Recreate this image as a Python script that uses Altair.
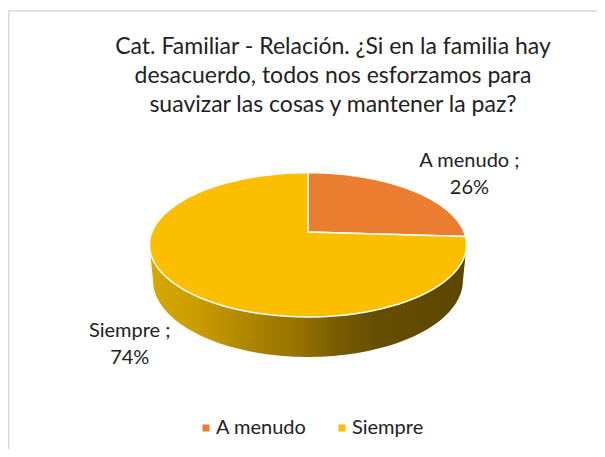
import math
import altair as alt
import pandas as pd

# ---- data ----
categories = ["A menudo", "Siempre"]
values = [26, 74]
colors = ["#EB7D31", "#FBBF00"]
title_lines = [
    "Cat. Familiar - Relación. ¿Si en la familia hay",
    "desacuerdo, todos nos esforzamos para",
    "suavizar las cosas y mantener la paz?",
]

# ---- layout / 3D style constants ----
W, H = 589, 441
CX, CY = 300, 224          # apex of the pie in view pixels (from top-left)
S, D, ALPHA, DEPTH = 785, 5.03, 26.6, 0.256
N = 90
FONT = "Lato"
TXT = "#222222"

ca = math.cos(math.radians(ALPHA))
sa = math.sin(math.radians(ALPHA))
fr = math.acos(-ca / D) / (2 * math.pi)   # right silhouette (fraction of circle)
fl = 1 - fr                               # left silhouette


def proj(X, Z, Y):
    yc = f"(({Y})*{ca} + ({Z})*{sa})"
    zc = f"(({Z})*{ca} - ({Y})*{sa})"
    x = f"{CX} + {S}*({X})/({D}+{zc})"
    y = f"{H - CY} + {S}*{yc}/({D}+{zc})"
    return x, y


df = pd.DataFrame({"cat": categories, "value": values})

xs = alt.X("x:Q", scale=alt.Scale(domain=[0, W], nice=False, zero=False), axis=None)
ys = alt.Y("y:Q", scale=alt.Scale(domain=[0, H], nice=False, zero=False), axis=None)


def base():
    return (
        alt.Chart(df)
        .transform_joinaggregate(total="sum(value)")
        .transform_window(cum="sum(value)")
        .transform_calculate(
            f0="(datum.cum - datum.value)/datum.total",
            f1="datum.cum/datum.total",
        )
    )


# ---- side (front wall) ----
sx, sy = proj("sin(2*PI*datum.t)", "cos(2*PI*datum.t)", "datum.Yv")
side = (
    base()
    .transform_calculate(vs=f"max(datum.f0, {fr})", ve=f"min(datum.f1, {fl})")
    .transform_filter("datum.ve > datum.vs")
    .transform_calculate(ks=f"sequence(0, {2 * N})")
    .transform_flatten(["ks"], as_=["k"])
    .transform_calculate(
        t=f"datum.k < {N} ? datum.vs + (datum.ve-datum.vs)*datum.k/{N - 1} : datum.ve - (datum.ve-datum.vs)*(datum.k-{N})/{N - 1}",
        Yv=f"datum.k < {N} ? 0 : {-DEPTH}",
    )
    .transform_calculate(x=sx, y=sy)
    .mark_line(
        filled=True,
        interpolate="linear-closed",
        strokeWidth=0,
        color=alt.LinearGradient(
            gradient="linear",
            x1=0, x2=1, y1=0, y2=0,
            stops=[
                alt.GradientStop(offset=0.0, color="#D8A800"),
                alt.GradientStop(offset=0.15, color="#C99C00"),
                alt.GradientStop(offset=0.35, color="#A88100"),
                alt.GradientStop(offset=0.48, color="#937000"),
                alt.GradientStop(offset=0.6, color="#765B00"),
                alt.GradientStop(offset=0.73, color="#644D00"),
                alt.GradientStop(offset=1.0, color="#5C4700"),
            ],
        ),
    )
    .encode(x=xs, y=ys, order=alt.Order("k:Q"), detail="cat:N")
)

# ---- top slices ----
tx, ty = proj("datum.X", "datum.Z", "0")
top = (
    base()
    .transform_calculate(ks=f"sequence(0, {N + 1})")
    .transform_flatten(["ks"], as_=["k"])
    .transform_calculate(
        t=f"datum.f0 + (datum.f1-datum.f0)*(datum.k-1)/{N - 1}",
    )
    .transform_calculate(
        X="datum.k == 0 ? 0 : sin(2*PI*datum.t)",
        Z="datum.k == 0 ? 0 : cos(2*PI*datum.t)",
    )
    .transform_calculate(x=tx, y=ty)
    .mark_line(
        filled=True,
        interpolate="linear-closed",
        stroke="white",
        strokeWidth=1.5,
        strokeJoin="round",
    )
    .encode(
        x=xs,
        y=ys,
        order=alt.Order("k:Q"),
        color=alt.Color(
            "cat:N",
            scale=alt.Scale(domain=categories, range=colors),
            legend=alt.Legend(
                title=None,
                orient="none",
                legendX=188,
                legendY=410,
                direction="horizontal",
                symbolType="square",
                symbolSize=49,
                symbolStrokeWidth=0,
                labelFont=FONT,
                labelFontSize=20,
                labelColor=TXT,
                labelOffset=0,
                columnPadding=25,
                padding=0,
            ),
        ),
    )
)

# ---- data labels ----
lx, ly = proj("datum.X", "datum.Z", "datum.Yv")
labels = (
    base()
    .transform_calculate(m="(datum.f0 + datum.f1)/2")
    .transform_calculate(X="sin(2*PI*datum.m)", Z="cos(2*PI*datum.m)")
    .transform_calculate(Yv=f"datum.Z < 0 ? {-DEPTH} : 0")
    .transform_calculate(px=lx, py=ly)
    .transform_calculate(
        x="datum.px + (datum.X >= 0 ? 60 : -52)",
        y="datum.py + (datum.Z >= 0 ? 28 : -6)",
        lbl="datum.cat + ' ;\\n' + round(100*datum.value/datum.total) + '%'",
    )
    .mark_text(
        font=FONT, fontSize=20, color=TXT, align="center", baseline="middle",
        lineBreak="\n", lineHeight=27,
    )
    .encode(x=xs, y=ys, text="lbl:N")
)

dummy = pd.DataFrame({"d": [0]})
title = (
    alt.Chart(dummy)
    .mark_text(
        text=title_lines, font=FONT, fontSize=23, color=TXT, align="center",
        baseline="alphabetic", lineHeight=29,
    )
    .encode(x=alt.value(325), y=alt.value(46))
)

border_top = alt.Chart(dummy).mark_rule(color="#D9D9D9", strokeWidth=1.5).encode(
    x=alt.value(0), x2=alt.value(W), y=alt.value(3)
)
border_left = alt.Chart(dummy).mark_rule(color="#D9D9D9", strokeWidth=1.5).encode(
    x=alt.value(0.75), y=alt.value(3), y2=alt.value(H)
)

chart = (
    alt.layer(border_top, border_left, side, top, labels, title)
    .properties(width=W, height=H, padding=0, autosize="none", background="white")
    .configure_view(stroke=None)
)

chart.save("out.html", embed_options={"renderer": "svg", "actions": False})
